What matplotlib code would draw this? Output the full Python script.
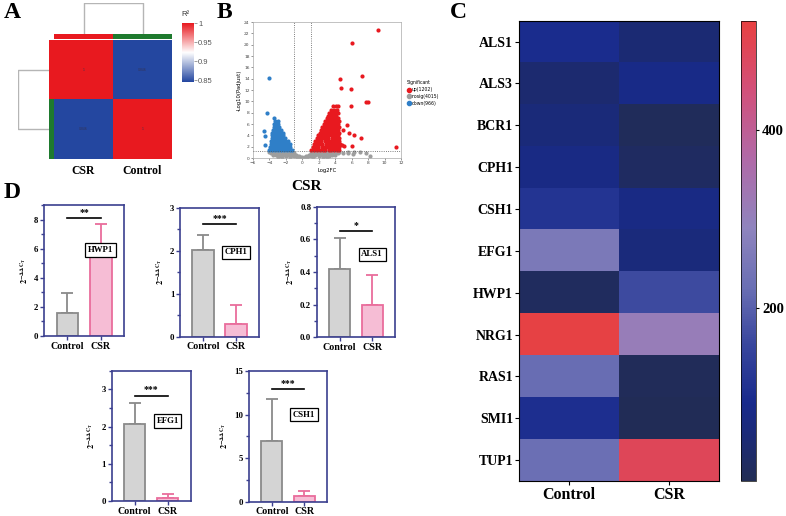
import matplotlib
matplotlib.use("Agg")
import matplotlib.pyplot as plt
import numpy as np
from matplotlib.colors import LinearSegmentedColormap, ListedColormap
from matplotlib.lines import Line2D

plt.rcParams['mathtext.fontset'] = 'stix'
SERIF = 'Liberation Serif'
SANS = 'Liberation Sans'

W, H = 786, 516
fig = plt.figure(figsize=(W / 100, H / 100), dpi=100)


def px_axes(x0, y0, x1, y1):
    return fig.add_axes([x0 / W, 1 - y1 / H, (x1 - x0) / W, (y1 - y0) / H])

# ---------------- DATA ----------------
# Panel A: sample correlation
samples_a = ['CSR', 'Control']
r2 = [[1.0, 0.846], [0.846, 1.0]]
group_a = [0, 1]
merge_height = 0.154

# Panel B: volcano points (representative)
up_x = [1.05, 1.4, 1.8, 2.1, 2.5, 2.8, 3.2, 3.5, 3.9, 4.2, 4.5,
        1.25, 1.6, 1.95, 2.35, 2.65, 3.05, 3.35, 3.7, 4.05, 4.4,
        1.4, 1.8, 2.1, 2.45, 2.85, 3.15, 3.5, 3.9, 4.2, 4.55,
        1.6, 1.95, 2.3, 2.7, 3.0, 3.35, 3.75, 4.05, 4.4,
        1.75, 2.1, 2.5, 2.8, 3.15, 3.55, 3.85, 4.2, 4.5,
        1.9, 2.25, 2.65, 2.95, 3.3, 3.65, 4.0, 4.35,
        2.1, 2.45, 2.8, 3.15, 3.5, 3.85, 4.2, 4.5,
        2.25, 2.6, 2.95, 3.3, 3.65, 4.0, 4.35,
        2.4, 2.75, 3.1, 3.45, 3.8, 4.15, 4.45,
        2.6, 2.95, 3.3, 3.65, 4.0, 4.3,
        2.75, 3.1, 3.45, 3.8, 4.15, 4.4,
        2.95, 3.3, 3.65, 4.0, 4.3,
        3.1, 3.45, 3.8, 4.15,
        3.3, 3.65, 4.0, 4.3,
        3.5, 3.85, 4.2,
        3.75, 4.05, 4.35,
        9.2, 6.1, 7.2, 4.6, 4.7, 5.9, 7.8, 8.0, 5.9, 5.4, 5.7, 6.3, 7.1,
        6.0, 11.4, 4.9, 4.8, 5.1]
up_y = [1.5] * 11 + [2.0] * 10 + [2.5] * 10 + [3.0] * 9 + [3.5] * 9 + [4.0] * 8 + \
       [4.5] * 8 + [5.0] * 7 + [5.5] * 7 + [6.0] * 6 + [6.5] * 6 + [7.0] * 5 + \
       [7.5] * 4 + [8.0] * 4 + [8.5] * 3 + [9.1] * 3 + \
       [22.6, 20.3, 14.5, 14.0, 12.3, 12.1, 9.9, 9.9, 9.1, 5.8, 4.4, 4.0, 3.6,
        2.1, 1.9, 5.0, 2.3, 2.2]

down_x = [-4.0, -3.65, -3.3, -2.95, -2.6, -2.25, -1.9, -1.55, -1.2,
          -3.9, -3.55, -3.2, -2.85, -2.5, -2.15, -1.8, -1.45,
          -3.85, -3.5, -3.15, -2.8, -2.45, -2.1, -1.75, -1.55,
          -3.8, -3.45, -3.1, -2.75, -2.4, -2.05, -1.8,
          -3.75, -3.4, -3.05, -2.7, -2.35, -2.05,
          -3.7, -3.35, -3.0, -2.65, -2.3,
          -3.65, -3.3, -2.95, -2.6, -2.4,
          -3.55, -3.2, -2.85, -2.6,
          -3.5, -3.15, -2.85,
          -3.4, -3.05, -2.9,
          -3.3, -3.0,
          -3.45,
          -4.0, -4.3, -4.7, -4.5, -4.6, -3.5]
down_y = [1.5] * 9 + [2.0] * 8 + [2.5] * 8 + [3.0] * 7 + [3.5] * 6 + [4.0] * 5 + \
         [4.5] * 5 + [5.0] * 4 + [5.5] * 3 + [6.0] * 3 + [6.5] * 2 + [7.0] + \
         [14.2, 8.0, 4.7, 3.8, 2.3, 1.8]

nosig_x = [-0.6, -0.3, 0.0, 0.3, 0.6, -3.0, -2.5, 2.5, 3.0,
           -1.0, -0.7, -0.4, 0.4, 0.7, 1.0, -2.0, -2.6, 2.0, 2.6, 3.3,
           -3.6, -3.2, -2.8, -2.4, -2.0, -1.6, -1.2, -0.8, 0.8, 1.2, 1.6, 2.0, 2.4, 2.8, 3.2, 3.6, 4.0,
           -3.8, -3.4, -3.0, -2.6, -2.2, -1.8, -1.4, -1.0, 1.0, 1.4, 1.8, 2.2, 2.6, 3.0, 3.4, 3.8, 4.3, 5.0,
           -4.0, -3.6, -3.2, -2.8, -2.4, -2.0, -1.6, -1.2, 1.2, 1.6, 2.0, 2.4, 2.8, 3.2, 3.6, 4.0, 4.5, 5.5, 6.3,
           -1.5, -1.3, 1.3, 1.5, 5.5, 6.2, 7.0, 7.8, 8.2]
nosig_y = [0.1] * 9 + [0.35] * 11 + [0.6] * 17 + [0.85] * 18 + [1.1] * 19 + \
          [0.2, 0.45, 0.2, 0.45, 0.9, 0.7, 1.0, 0.8, 0.3]
n_up, n_nosig, n_down = 1202, 4015, 966

# Panel C: expression heatmap
genes_c = ['ALS1', 'ALS3', 'BCR1', 'CPH1', 'CSH1', 'EFG1', 'HWP1', 'NRG1', 'RAS1', 'SMI1', 'TUP1']
groups_c = ['Control', 'CSR']
control_c = [100, 45, 60, 80, 118, 255, 20, 515, 220, 105, 225]
csr_c = [50, 85, 15, 25, 80, 65, 165, 310, 12, 8, 490]
vmin_c, vmax_c = 5, 523

# Panel D: qPCR bars
genes_d = ['HWP1', 'CPH1', 'ALS1', 'EFG1', 'CSH1']
ctrl_mean = [1.6, 2.03, 0.42, 2.07, 6.95]
ctrl_err = [1.35, 0.33, 0.19, 0.55, 4.8]
csr_mean = [5.45, 0.3, 0.195, 0.08, 0.7]
csr_err = [2.25, 0.43, 0.185, 0.12, 0.5]
sig_text = ['**', '***', '*', '***', '***']
sig_y = [8.1, 2.62, 0.65, 2.82, 12.9]
ylim_top = [9, 3, 0.8, 3.5, 15]
major_step = [2, 1, 0.2, 1, 5]
box_y = [5.9, 1.97, 0.51, 2.15, 10.0]
bar_labels = ['Control', 'CSR']

# ---------------- PANEL LETTERS ----------------
for lab, x, y in [('A', 4, 13), ('B', 217, 13), ('C', 450, 13), ('D', 4, 193)]:
    fig.text(x / W, 1 - y / H, lab, fontsize=17, fontweight='bold', family=SERIF,
             va='center', ha='left')

# ---------------- PANEL A ----------------
cmap_a = LinearSegmentedColormap.from_list('a', ['#2346a0', '#ffffff', '#e8191f'])
axA = px_axes(54, 40, 172, 159)
axA.imshow(r2, cmap=cmap_a, vmin=0.845, vmax=1.0, aspect='auto')
for i in range(2):
    for j in range(2):
        v = r2[i][j]
        axA.text(j, i, f'{v:g}', fontsize=2.2, ha='center', va='center', color='#333355')
axA.set_xticks(range(2))
axA.set_xticklabels(samples_a, fontsize=8.5, fontweight='bold', family=SERIF)
axA.set_yticks([])
axA.tick_params(axis='x', length=0, pad=4)
for s in axA.spines.values():
    s.set_visible(False)

anno_cmap = ListedColormap(['#e8191f', '#1e7a2e'])
axT = px_axes(54, 34, 172, 39)
axT.imshow([group_a], cmap=anno_cmap, vmin=0, vmax=1, aspect='auto')
axT.set_axis_off()
axL = px_axes(48.5, 40, 53, 159)
axL.imshow([[g] for g in group_a], cmap=anno_cmap, vmin=0, vmax=1, aspect='auto')
axL.set_axis_off()

axDT = px_axes(54, 2.5, 172, 34)
axDT.plot([0, 0, 1, 1], [0, merge_height, merge_height, 0], color='#b5b5b5', lw=1)
axDT.set_xlim(-0.5, 1.5)
axDT.set_ylim(0, merge_height * 1.01)
axDT.set_axis_off()
axDL = px_axes(17.5, 40, 48.5, 159)
axDL.plot([0, merge_height, merge_height, 0], [0, 0, 1, 1], color='#b5b5b5', lw=1)
axDL.set_ylim(1.5, -0.5)
axDL.set_xlim(merge_height * 1.01, 0)
axDL.set_axis_off()

axCA = px_axes(182, 23, 194, 82)
grad = np.linspace(0.845, 1.0, 256).reshape(-1, 1)
axCA.imshow(grad, cmap=cmap_a, vmin=0.845, vmax=1.0, aspect='auto', origin='lower',
            extent=[0, 1, 0.845, 1.0])
axCA.set_xticks([])
axCA.yaxis.tick_right()
axCA.set_yticks([0.85, 0.9, 0.95, 1.0])
axCA.set_yticklabels(['0.85', '0.9', '0.95', '1'], fontsize=5.5, color='#555555', family=SANS)
axCA.tick_params(axis='y', length=2, width=0.5, color='#777777', pad=1)
for s in axCA.spines.values():
    s.set_visible(False)
fig.text(181 / W, 1 - 14 / H, 'R²', fontsize=5.5, color='#333333', family=SANS, va='center')

# ---------------- PANEL B ----------------
axB = px_axes(253, 22, 401, 158)
axB.scatter(nosig_x, nosig_y, s=9, color='#9e9e9e', linewidths=0, zorder=2)
axB.scatter(down_x, down_y, s=9, color='#2f7fc8', linewidths=0, zorder=3)
axB.scatter(up_x, up_y, s=9, color='#e8191f', linewidths=0, zorder=3)
axB.axvline(-1, color='#555555', lw=0.6, ls=':', zorder=1)
axB.axvline(1, color='#555555', lw=0.6, ls=':', zorder=1)
axB.axhline(-np.log10(0.05), color='#555555', lw=0.6, ls=':', zorder=4)
axB.set_xlim(-6, 12)
axB.set_ylim(0, 24)
axB.set_xticks(range(-6, 13, 2))
axB.set_yticks(range(0, 25, 2))
axB.tick_params(labelsize=3.2, length=1.5, width=0.4, pad=1, colors='#444444')
for s in axB.spines.values():
    s.set_color('#aaaaaa')
    s.set_linewidth(0.5)
axB.set_xlabel('Log2FC', fontsize=3.8, labelpad=1.5)
axB.set_ylabel('-Log10(Padjust)', fontsize=3.8, labelpad=1.5)
handles = [Line2D([], [], marker='o', ls='', color='#e8191f', markersize=3),
           Line2D([], [], marker='o', ls='', color='#9e9e9e', markersize=3),
           Line2D([], [], marker='o', ls='', color='#2f7fc8', markersize=3)]
leg = fig.legend(handles, [f'up({n_up})', f'nosig({n_nosig})', f'down({n_down})'],
                 title='Significant', loc='upper left', bbox_to_anchor=(404 / W, 1 - 78 / H),
                 fontsize=3.3, title_fontsize=3.3, frameon=False, handletextpad=0.2,
                 borderpad=0, labelspacing=0.4, handlelength=1.0)
leg._legend_box.align = 'left'
fig.text(307 / W, 1 - 187 / H, 'CSR', fontsize=11, fontweight='bold', family=SERIF,
         ha='center', va='center')

# ---------------- PANEL C ----------------
cmap_c = LinearSegmentedColormap.from_list('c', [
    (0.0, '#222d55'), (0.1, '#1b2a78'), (0.17, '#182a8c'), (0.3, '#3a479e'),
    (0.42, '#6a6fb4'), (0.55, '#8f84be'), (0.7, '#b06aa8'), (0.85, '#d2507a'),
    (1.0, '#e84040')])
axC = px_axes(518.7, 20.7, 718.7, 481)
mat_c = np.array([control_c, csr_c]).T
imc = axC.imshow(mat_c, cmap=cmap_c, vmin=vmin_c, vmax=vmax_c, aspect='auto')
axC.set_yticks(range(len(genes_c)))
axC.set_yticklabels(genes_c, fontsize=10, fontweight='bold', family=SERIF)
axC.set_xticks(range(2))
axC.set_xticklabels(groups_c, fontsize=11.5, fontweight='bold', family=SERIF)
axC.tick_params(length=3, width=0.8, pad=1)
for s in axC.spines.values():
    s.set_linewidth(0.8)
axCC = px_axes(741, 20.7, 755.7, 481)
cb = fig.colorbar(imc, cax=axCC)
cb.set_ticks([200, 400])
cb.ax.set_yticklabels(['200', '400'], fontsize=10.5, fontweight='bold', family=SERIF)
cb.ax.tick_params(length=2.5, width=0.8, pad=2)
cb.outline.set_linewidth(0.5)

# ---------------- PANEL D ----------------
bar_pos = [(44, 205, 124, 336), (180, 208, 259, 336.7), (316.7, 207, 395, 337),
           (111.7, 370.7, 190.7, 501), (249, 371, 327, 501.7)]
spine_c = '#3b3f8f'
gray_face, gray_edge = '#d4d4d4', '#8a8a8a'
pink_face, pink_edge = '#f6bdd5', '#e96d9c'
for k, g in enumerate(genes_d):
    ax = px_axes(*bar_pos[k])
    xs = [0, 1]
    ax.bar(xs[0], ctrl_mean[k], width=0.65, color=gray_face, edgecolor=gray_edge, lw=1.3, zorder=2)
    ax.bar(xs[1], csr_mean[k], width=0.65, color=pink_face, edgecolor=pink_edge, lw=1.3, zorder=2)
    ax.errorbar(xs[0], ctrl_mean[k], yerr=[[0], [ctrl_err[k]]], color=gray_edge, lw=1.3,
                capsize=4, capthick=1.3, zorder=1)
    ax.errorbar(xs[1], csr_mean[k], yerr=[[0], [csr_err[k]]], color=pink_edge, lw=1.3,
                capsize=4, capthick=1.3, zorder=1)
    ax.plot(xs, [sig_y[k], sig_y[k]], color='black', lw=1.2)
    ax.text(0.5, sig_y[k] + ylim_top[k] * 0.012, sig_text[k], ha='center', va='bottom',
            fontsize=7, fontweight='bold', family=SERIF)
    ax.text(1.0, box_y[k], g, ha='center', va='center', fontsize=6.3, fontweight='bold',
            family=SERIF, bbox=dict(boxstyle='square,pad=0.3', fc='white', ec='black', lw=0.9))
    ax.set_xlim(-0.7, 1.7)
    ax.set_ylim(0, ylim_top[k])
    step = major_step[k]
    ax.set_yticks(np.arange(0, ylim_top[k] + 1e-9, step))
    ax.set_yticks(np.arange(step / 2, ylim_top[k] + 1e-9, step), minor=True)
    if step < 1:
        ax.set_yticklabels([f'{v:.1f}' for v in np.arange(0, ylim_top[k] + 1e-9, step)])
    ax.set_xticks(xs)
    ax.set_xticklabels(bar_labels, fontsize=7.2, fontweight='bold', family=SERIF)
    for lbl in ax.get_yticklabels():
        lbl.set_fontsize(6.3)
        lbl.set_fontweight('bold')
        lbl.set_family(SERIF)
    ax.tick_params(axis='both', which='both', color=spine_c, width=1, pad=1)
    ax.tick_params(axis='y', which='major', length=3)
    ax.tick_params(axis='y', which='minor', length=2)
    ax.tick_params(axis='x', length=3)
    for s in ax.spines.values():
        s.set_color(spine_c)
        s.set_linewidth(1.2)
    ax.set_ylabel(r'$\mathbf{2^{-\Delta\Delta C_T}}$', fontsize=6, labelpad=3)

fig.savefig('out.png', dpi=100)
